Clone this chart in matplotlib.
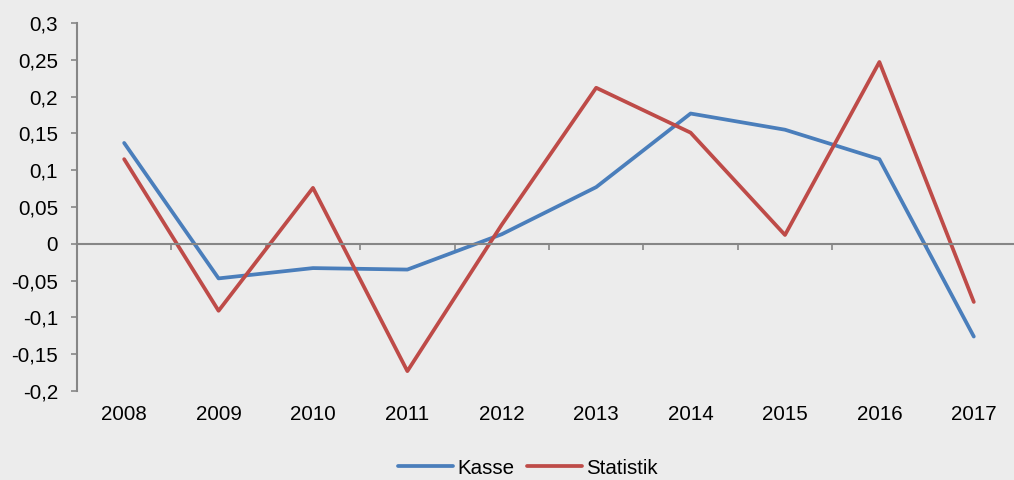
import matplotlib
matplotlib.use("Agg")
import matplotlib.pyplot as plt
from matplotlib.ticker import FuncFormatter, FixedLocator

years = ['2008', '2009', '2010', '2011', '2012', '2013', '2014', '2015', '2016', '2017']
kasse = [0.137, -0.047, -0.033, -0.035, 0.013, 0.077, 0.177, 0.155, 0.115, -0.126]
statistik = [0.115, -0.091, 0.076, -0.173, 0.026, 0.212, 0.151, 0.012, 0.247, -0.079]

plt.rcParams['font.family'] = ['Liberation Sans', 'DejaVu Sans']
bg = '#ececec'
axis_grey = '#868686'
fs = 14.8

fig = plt.figure(figsize=(10.14, 4.80), dpi=100, facecolor=bg)
ax = fig.add_axes([0.0759, 0.1854, 0.931, 0.7667], facecolor=bg)

x = list(range(len(years)))
ax.plot(x, kasse, color='#4a7ebb', lw=2.7, label='Kasse', solid_capstyle='round')
ax.plot(x, statistik, color='#be4b48', lw=2.7, label='Statistik', solid_capstyle='round')

ax.set_xlim(-0.5, len(years) - 0.5)
ax.set_ylim(-0.2, 0.3)
ax.set_yticks([-0.2, -0.15, -0.1, -0.05, 0, 0.05, 0.1, 0.15, 0.2, 0.25, 0.3])
ax.yaxis.set_major_formatter(FuncFormatter(lambda v, p: f"{round(v, 2):g}".replace('.', ',')))
ax.tick_params(axis='y', colors=axis_grey, labelcolor='black', labelsize=fs,
               length=4.5, width=1.2, pad=9)

for s in ['top', 'right']:
    ax.spines[s].set_visible(False)
ax.spines['left'].set_color(axis_grey)
ax.spines['left'].set_linewidth(1.5)
ax.spines['bottom'].set_position(('data', 0))
ax.spines['bottom'].set_color(axis_grey)
ax.spines['bottom'].set_linewidth(1.5)

# boundary ticks on the zero line
ax.xaxis.set_major_locator(FixedLocator([i + 0.5 for i in range(len(years))]))
ax.tick_params(axis='x', colors=axis_grey, length=4.5, width=1.2, labelbottom=False)

# category labels at the bottom
sec = ax.secondary_xaxis('bottom')
sec.set_xticks(x)
sec.set_xticklabels(years)
sec.tick_params(length=0, labelsize=fs, pad=10)
sec.spines['bottom'].set_visible(False)

fig.legend(loc='center', bbox_to_anchor=(528 / 1014, 0.025), ncol=2, frameon=False,
           fontsize=fs, handlelength=2.7, handletextpad=0.2, columnspacing=0.6)

fig.savefig('out.png', dpi=100, facecolor=bg)
